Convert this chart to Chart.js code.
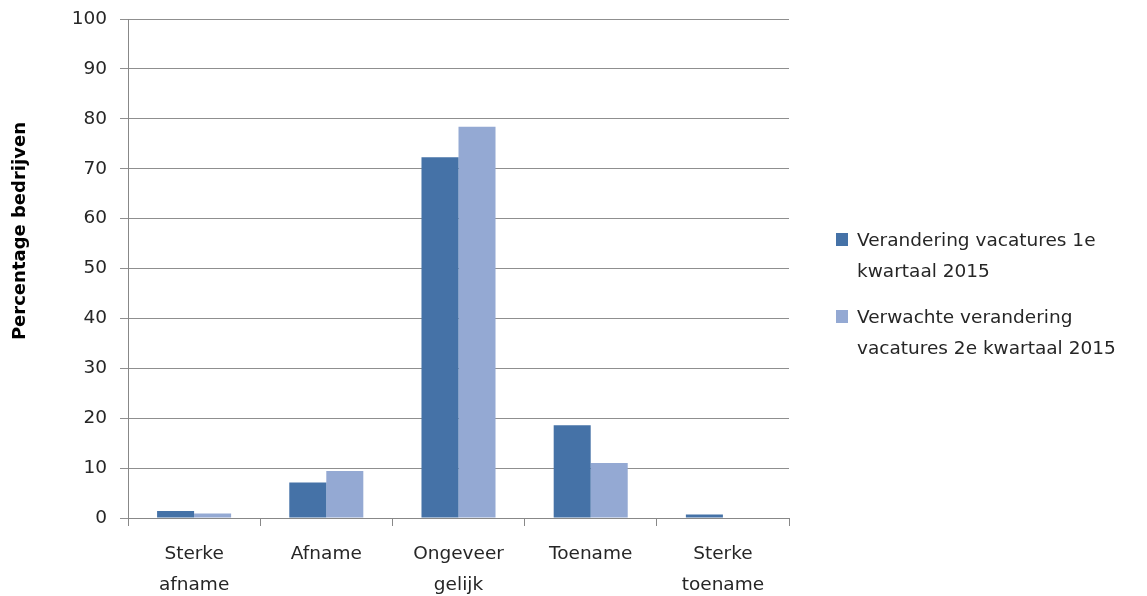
<!DOCTYPE html>
<html>
<head>
<meta charset="utf-8">
<script src="https://cdn.jsdelivr.net/npm/chart.js@4.4.1/dist/chart.umd.min.js"></script>
<style>
  html, body { margin: 0; padding: 0; background: #fff; }
  #wrap { position: relative; width: 1147px; height: 596px; }
  #legend { position: absolute; left: 836px; top: 224px; font-family: "DejaVu Sans", sans-serif; font-size: 18.5px; color: #262626; line-height: 31px; }
  .item { position: relative; padding-left: 21px; margin-bottom: 15px; }
  .box { position: absolute; left: 0; top: 9px; width: 12px; height: 13px; }
</style>
</head>
<body>
<div id="wrap">
  <canvas id="c" width="1147" height="596"></canvas>
  <div id="legend"></div>
</div>
<script>
const categories = [["Sterke", "afname"], ["Afname"], ["Ongeveer", "gelijk"], ["Toename"], ["Sterke", "toename"]];
const seriesNames = [["Verandering vacatures 1e", "kwartaal 2015"], ["Verwachte verandering", "vacatures 2e kwartaal 2015"]];
const series1 = [1.4, 7.1, 72.3, 18.6, 0.7];
const series2 = [0.9, 9.4, 78.4, 11.0, 0];
const colors = ["#4572a7", "#94a9d3"];
const yTitle = "Percentage bedrijven";

const textColor = "#262626";
const font = { family: "DejaVu Sans", size: 18.5 };

const yTitlePlugin = {
  id: "yTitle",
  afterDraw(chart) {
    const ctx = chart.ctx;
    const a = chart.chartArea;
    ctx.save();
    ctx.translate(20, a.top + a.height * 0.425);
    ctx.rotate(-Math.PI / 2);
    ctx.font = "bold 18px 'DejaVu Sans'";
    ctx.fillStyle = "#000";
    ctx.textAlign = "center";
    ctx.textBaseline = "middle";
    ctx.fillText(yTitle, 0, 0);
    ctx.restore();
  }
};

new Chart(document.getElementById("c"), {
  type: "bar",
  data: {
    labels: categories,
    datasets: [
      { label: seriesNames[0], data: series1, backgroundColor: colors[0], borderWidth: 0 },
      { label: seriesNames[1], data: series2, backgroundColor: colors[1], borderWidth: 0 }
    ]
  },
  options: {
    responsive: false,
    animation: false,
    layout: { padding: { left: 28, right: 358, top: 19, bottom: 0 } },
    plugins: { legend: { display: false }, tooltip: { enabled: false } },
    datasets: { bar: { categoryPercentage: 0.56, barPercentage: 1.0 } },
    scales: {
      x: {
        grid: { offset: true, drawOnChartArea: false, tickLength: 8, color: "#888" },
        border: { color: "#888", width: 1 },
        ticks: { font: { ...font, lineHeight: 1.65 }, color: textColor, padding: 13, maxRotation: 0 },
        afterFit(s) { s.height = 78; s.paddingLeft = 0; s.paddingRight = 0; }
      },
      y: {
        min: 0, max: 100,
        ticks: { stepSize: 10, font: font, color: textColor, padding: 13 },
        grid: { color: "#8f8f8f", tickLength: 8 },
        border: { color: "#888", width: 1 },
        afterFit(s) { s.width = 100; s.paddingTop = 0; s.paddingBottom = 0; }
      }
    }
  },
  plugins: [yTitlePlugin]
});

const legend = document.getElementById("legend");
seriesNames.forEach((name, i) => {
  const it = document.createElement("div");
  it.className = "item";
  const b = document.createElement("span");
  b.className = "box";
  b.style.background = colors[i];
  it.appendChild(b);
  name.forEach((line, j) => {
    if (j) it.appendChild(document.createElement("br"));
    it.appendChild(document.createTextNode(line));
  });
  legend.appendChild(it);
});
</script>
</body>
</html>
